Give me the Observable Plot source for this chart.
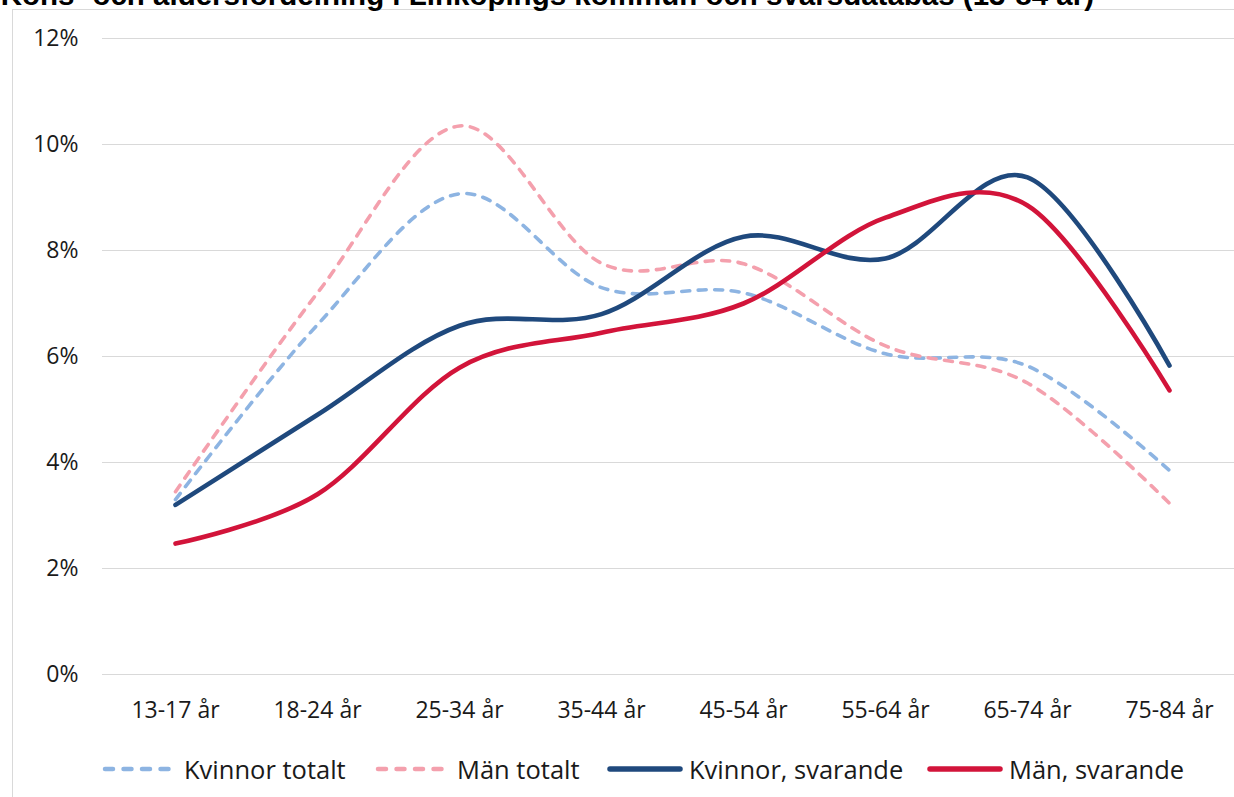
<!DOCTYPE html>
<html>
<head>
<meta charset="utf-8">
<script src="https://cdn.jsdelivr.net/npm/d3@7"></script>
<script src="https://cdn.jsdelivr.net/npm/@observablehq/plot@0.6"></script>
<style>
  html, body { margin: 0; padding: 0; background: #fff; }
  body { position: relative; width: 1234px; height: 797px; overflow: hidden; font-family: "Open Sans", sans-serif; }
  #frame { position: absolute; left: 12px; top: 9px; width: 1300px; height: 900px; border-left: 1px solid #d9d9d9; border-top: 1px solid #d9d9d9; }
  #title { position: absolute; top: -20px; right: 140px; white-space: nowrap; font-family: "Liberation Sans", Arial, sans-serif; font-weight: bold; font-size: 29.5px; line-height: 29.5px; color: #000; }
  #chart { position: absolute; left: 0; top: 0; }
  #legend { position: absolute; left: 0; top: 752px; width: 1234px; height: 34px; font-family: "Open Sans", sans-serif; font-size: 25.5px; color: #1a1a1a; }
  .item { position: absolute; top: 0; height: 34px; display: flex; align-items: center; white-space: nowrap; }
  .item svg { margin-right: 6px; }
</style>
</head>
<body>
<div id="frame"></div>
<div id="title">Köns- och åldersfördelning i Linköpings kommun och svarsdatabas (13-84 år)</div>
<div id="chart"></div>
<div id="legend"></div>
<script>
const ageGroups = ["13-17 år", "18-24 år", "25-34 år", "35-44 år", "45-54 år", "55-64 år", "65-74 år", "75-84 år"];
const kvinnorTotalt   = [3.3, 6.6, 9.07, 7.3, 7.2, 6.05, 5.82, 3.85];
const manTotalt       = [3.45, 7.2, 10.35, 7.76, 7.75, 6.2, 5.5, 3.23];
const kvinnorSvarande = [3.2, 4.9, 6.58, 6.8, 8.26, 7.85, 9.38, 5.83];
const manSvarande     = [2.47, 3.4, 5.79, 6.45, 7.0, 8.62, 8.85, 5.36];
const yTicks = [0, 2, 4, 6, 8, 10, 12];

const seriesNames = ["Kvinnor totalt", "Män totalt", "Kvinnor, svarande", "Män, svarande"];
const seriesValues = [kvinnorTotalt, manTotalt, kvinnorSvarande, manSvarande];
const seriesColors = ["#8db4e2", "#f4a0ad", "#1f497d", "#d2143a"];
const seriesDashed = [true, true, false, false];
const legendLeft = [105, 378, 610, 930];

const rows = seriesNames.flatMap((name, i) =>
  ageGroups.map((g, j) => ({series: name, age: g, value: seriesValues[i][j]})));

const lineMarks = seriesNames.map((name, i) =>
  Plot.line(rows.filter(d => d.series === name), {
    x: "age", y: "value",
    stroke: seriesColors[i],
    strokeWidth: seriesDashed[i] ? 3.6 : 4.6,
    strokeDasharray: seriesDashed[i] ? "8,8.5" : null,
    strokeLinecap: "round",
    strokeLinejoin: "round",
    curve: "cardinal",
    tension: 0
  }));

const chart = Plot.plot({
  width: 1234,
  height: 740,
  marginLeft: 102,
  marginRight: 0,
  marginTop: 38,
  marginBottom: 66,
  style: {fontFamily: "'Open Sans', sans-serif", fontSize: "23px", color: "#1a1a1a", background: "transparent"},
  x: {type: "point", domain: ageGroups, range: [174, 1169], padding: 0},
  y: {domain: [0, 12]},
  marks: [
    Plot.ruleY(yTicks, {stroke: "#d9d9d9", strokeWidth: 1.2}),
    Plot.axisY({ticks: yTicks, tickSize: 0, tickPadding: 24, tickFormat: d => d + "%", label: null, fill: "#1a1a1a"}),
    Plot.axisX({tickSize: 0, tickPadding: 27, label: null, fill: "#1a1a1a"}),
    ...lineMarks
  ]
});
document.getElementById("chart").appendChild(chart);

const legend = document.getElementById("legend");
seriesNames.forEach((name, i) => {
  const item = document.createElement("div");
  item.className = "item";
  item.style.left = (legendLeft[i] - 3) + "px";
  const ns = "http://www.w3.org/2000/svg";
  const sw = document.createElementNS(ns, "svg");
  sw.setAttribute("width", 76);
  sw.setAttribute("height", 12);
  const ln = document.createElementNS(ns, "line");
  ln.setAttribute("x1", 3); ln.setAttribute("x2", 73);
  ln.setAttribute("y1", 6); ln.setAttribute("y2", 6);
  ln.setAttribute("stroke", seriesColors[i]);
  ln.setAttribute("stroke-width", seriesDashed[i] ? 4.5 : 5.5);
  ln.setAttribute("stroke-linecap", "round");
  if (seriesDashed[i]) ln.setAttribute("stroke-dasharray", "8,10.5");
  sw.appendChild(ln);
  const label = document.createElement("span");
  label.textContent = name;
  item.appendChild(sw);
  item.appendChild(label);
  legend.appendChild(item);
});
</script>
</body>
</html>
